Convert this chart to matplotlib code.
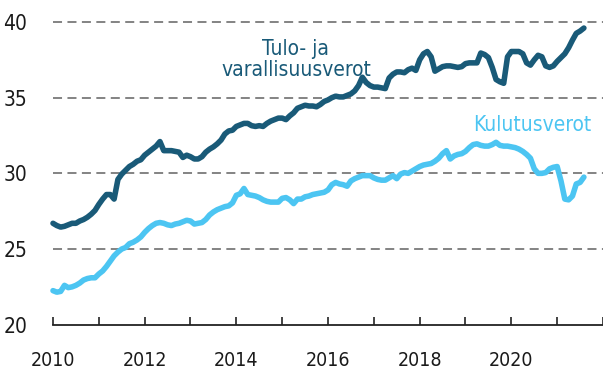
import matplotlib
matplotlib.use("Agg")
import matplotlib.pyplot as plt
import numpy as np

plt.rcParams['font.family'] = ['DejaVu Sans']
plt.rcParams['font.stretch'] = 'condensed'

# Monthly shares (%), Jan 2010 onwards
tulo_varallisuus = [
    26.7, 26.55, 26.45, 26.5, 26.6, 26.7, 26.7, 26.85, 26.95, 27.1, 27.3, 27.55,
    27.95, 28.3, 28.6, 28.6, 28.3, 29.6, 29.95, 30.2, 30.45, 30.6, 30.8, 30.9,
    31.2, 31.4, 31.6, 31.8, 32.1, 31.5, 31.5, 31.5, 31.45, 31.4, 31.05, 31.2,
    31.1, 30.95, 30.95, 31.1, 31.4, 31.6, 31.75, 31.95, 32.2, 32.6, 32.8, 32.85,
    33.1, 33.2, 33.3, 33.3, 33.15, 33.1, 33.15, 33.1, 33.3, 33.45, 33.55, 33.65,
    33.65, 33.55, 33.8, 34.0, 34.3, 34.4, 34.5, 34.45, 34.45, 34.4, 34.55, 34.75,
    34.85, 35.0, 35.1, 35.05, 35.05, 35.15, 35.25, 35.45, 35.8, 36.35, 36.0, 35.8,
    35.7, 35.7, 35.65, 35.6, 36.3, 36.55, 36.7, 36.7, 36.65, 36.85, 36.95, 36.8,
    37.5, 37.9, 38.05, 37.7, 36.75, 36.9, 37.05, 37.1, 37.1, 37.05, 37.0, 37.05,
    37.25, 37.3, 37.3, 37.3, 37.95, 37.85, 37.65, 37.0, 36.2, 36.05, 35.95, 37.7,
    38.05, 38.05, 38.05, 37.9, 37.3, 37.15, 37.5, 37.8, 37.7, 37.1, 37.0, 37.1,
    37.4, 37.65, 37.9, 38.3, 38.8, 39.25, 39.4, 39.6,
]
kulutus = [
    22.25, 22.15, 22.2, 22.6, 22.45, 22.5, 22.6, 22.75, 22.95, 23.05, 23.1, 23.1,
    23.35, 23.55, 23.85, 24.2, 24.55, 24.8, 25.0, 25.1, 25.35, 25.45, 25.6, 25.8,
    26.1, 26.35, 26.55, 26.7, 26.75, 26.7, 26.6, 26.55, 26.65, 26.7, 26.8, 26.9,
    26.85, 26.65, 26.7, 26.75, 26.95, 27.25, 27.45, 27.6, 27.7, 27.8, 27.85, 28.05,
    28.55, 28.65, 29.0, 28.6, 28.55, 28.5, 28.4, 28.25, 28.15, 28.1, 28.1, 28.1,
    28.35, 28.4, 28.25, 28.0, 28.3, 28.3, 28.45, 28.5, 28.6, 28.65, 28.7, 28.75,
    28.9, 29.25, 29.4, 29.3, 29.25, 29.15, 29.5, 29.65, 29.75, 29.85, 29.85, 29.85,
    29.7, 29.6, 29.55, 29.55, 29.7, 29.85, 29.65, 29.95, 30.05, 30.0, 30.15, 30.3,
    30.45, 30.55, 30.6, 30.65, 30.8, 31.0, 31.3, 31.5, 30.95, 31.15, 31.25, 31.3,
    31.45, 31.7, 31.9, 31.95, 31.85, 31.8, 31.8, 31.9, 32.05, 31.85, 31.8, 31.8,
    31.75, 31.7, 31.6, 31.45, 31.25, 31.0, 30.3, 30.0, 30.0, 30.05, 30.3, 30.4,
    30.45, 29.5, 28.3, 28.25, 28.5, 29.3, 29.4, 29.75,
]
year_ticks = [2010, 2012, 2014, 2016, 2018, 2020]
y_ticks = [20, 25, 30, 35, 40]

months = 2010 + np.arange(len(tulo_varallisuus)) / 12

dark = '#195a78'
light = '#4cc5f2'

fig = plt.figure(figsize=(6.03, 3.74), dpi=100)
ax = fig.add_axes([53 / 603, 49.3 / 374, 550 / 603, 302.7 / 374])

for y in y_ticks[1:]:
    ax.axhline(y, color='#7a7a7a', lw=1.3, dashes=(5, 3), zorder=1, clip_on=False)

ax.plot(months, tulo_varallisuus, color=dark, lw=4, solid_capstyle='round',
        solid_joinstyle='round', zorder=3, clip_on=False)
ax.plot(months, kulutus, color=light, lw=4, solid_capstyle='round',
        solid_joinstyle='round', zorder=3, clip_on=False)

ax.text(2015.3, 37.5, 'Tulo- ja\nvarallisuusverot', color=dark, fontsize=15,
        ha='center', va='center', linespacing=1.05)
ax.text(2020.45, 33.2, 'Kulutusverot', color=light, fontsize=15,
        ha='center', va='center')

ax.set_xlim(2010, 2022)
ax.set_ylim(20, 40)
ax.set_xticks(year_ticks)
ax.set_xticklabels([str(y) for y in year_ticks])
ax.set_xticks(range(2010, 2023), minor=True)
ax.set_yticks(y_ticks)

for s in ['top', 'right', 'left']:
    ax.spines[s].set_visible(False)
ax.spines['bottom'].set_color('#222222')
ax.spines['bottom'].set_linewidth(1.3)

ax.tick_params(axis='x', which='both', direction='in', length=6, width=1.2,
               color='#222222', pad=19, labelsize=14, labelcolor='#1a1a1a')
ax.tick_params(axis='y', length=0, pad=18.5, labelsize=15, labelcolor='#1a1a1a')

fig.savefig('out.png', dpi=100)
